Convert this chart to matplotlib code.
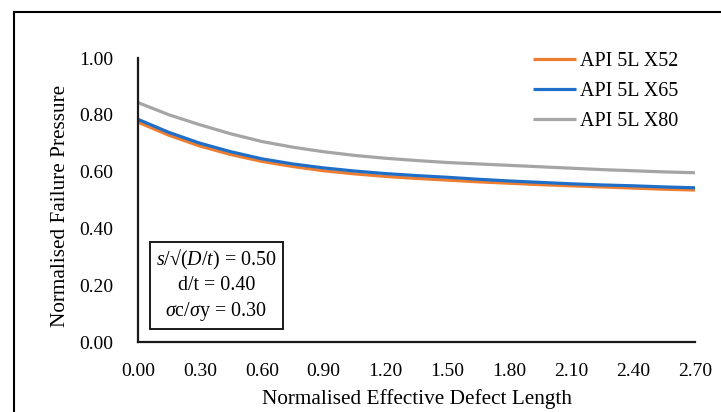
import numpy as np
import matplotlib.pyplot as plt
from matplotlib.lines import Line2D

# Normalised effective defect length
x = [0.00, 0.15, 0.30, 0.45, 0.60, 0.75, 0.90, 1.05, 1.20, 1.35,
     1.50, 1.65, 1.80, 1.95, 2.10, 2.25, 2.40, 2.55, 2.70]

# Normalised failure pressure
x52 = [0.774, 0.728, 0.690, 0.660, 0.636, 0.618, 0.603, 0.592, 0.583, 0.576,
       0.570, 0.564, 0.559, 0.554, 0.550, 0.546, 0.542, 0.538, 0.535]
x65 = [0.784, 0.738, 0.700, 0.670, 0.645, 0.627, 0.613, 0.602, 0.593, 0.586,
       0.580, 0.573, 0.567, 0.562, 0.557, 0.553, 0.550, 0.546, 0.543]
x80 = [0.843, 0.800, 0.765, 0.733, 0.706, 0.686, 0.670, 0.657, 0.647, 0.639,
       0.632, 0.627, 0.622, 0.617, 0.612, 0.607, 0.603, 0.599, 0.596]

labels = ['API 5L X52', 'API 5L X65', 'API 5L X80']
xticks = [0.00, 0.30, 0.60, 0.90, 1.20, 1.50, 1.80, 2.10, 2.40, 2.70]
yticks = [0.00, 0.20, 0.40, 0.60, 0.80, 1.00]

plt.rcParams['font.family'] = ['Liberation Serif', 'DejaVu Serif']
plt.rcParams['mathtext.fontset'] = 'custom'
plt.rcParams['mathtext.it'] = 'Liberation Serif:italic'
plt.rcParams['mathtext.rm'] = 'Liberation Serif'

fig = plt.figure(figsize=(7.21, 4.12), dpi=100)
ax = fig.add_axes([0.1914, 0.1699, 0.7726, 0.6893])

ax.plot(x, x52, color='#ED7D31', lw=2.3, label=labels[0], solid_capstyle='butt')
ax.plot(x, x65, color='#1F6FC8', lw=2.3, label=labels[1], solid_capstyle='butt')
ax.plot(x, x80, color='#A5A5A5', lw=2.3, label=labels[2], solid_capstyle='butt')

ax.set_xlim(0, 2.70)
ax.set_ylim(0, 1.0)
ax.set_xticks(xticks)
ax.set_yticks(yticks)
ax.set_xticklabels(['%.2f' % v for v in xticks])
ax.set_yticklabels(['%.2f' % v for v in yticks])
ax.tick_params(axis='x', length=0, pad=15, labelsize=14)
ax.tick_params(axis='y', length=0, pad=18, labelsize=14)
for side in ['top', 'right']:
    ax.spines[side].set_visible(False)
for side in ['left', 'bottom']:
    ax.spines[side].set_linewidth(1.6)
    ax.spines[side].set_color('#1a1a1a')

fig.text(0.578, 0.031, 'Normalised Effective Defect Length', ha='center', va='center', fontsize=15.3)
fig.text(0.084, 0.5, 'Normalised Failure Pressure', ha='center', va='center',
         rotation=90, fontsize=15.3)

ax.legend(loc='upper left', bbox_to_anchor=(0.739, 0.873), bbox_transform=fig.transFigure,
          frameon=False, fontsize=14.4, handlelength=2.15, handletextpad=0.2,
          labelspacing=0.55, borderpad=0, borderaxespad=0)

ax.text(0.300, 0.308,
        '$s$/√($D$/$t$) = 0.50\nd/t = 0.40\n$\\sigma$c/$\\sigma$y = 0.30',
        transform=fig.transFigure, ha='center', va='center', fontsize=14.4,
        linespacing=1.3,
        bbox=dict(boxstyle='square,pad=0.3', fc='white', ec='#1a1a1a', lw=1.4))

# outer chart frame (cut off at right and bottom in the reference)
fig.add_artist(Line2D([0.0194, 1.0], [0.971, 0.971], color='black', lw=1.5,
                      transform=fig.transFigure))
fig.add_artist(Line2D([0.0194, 0.0194], [0.0, 0.971], color='black', lw=1.5,
                      transform=fig.transFigure))

plt.savefig('out.png', dpi=100)
